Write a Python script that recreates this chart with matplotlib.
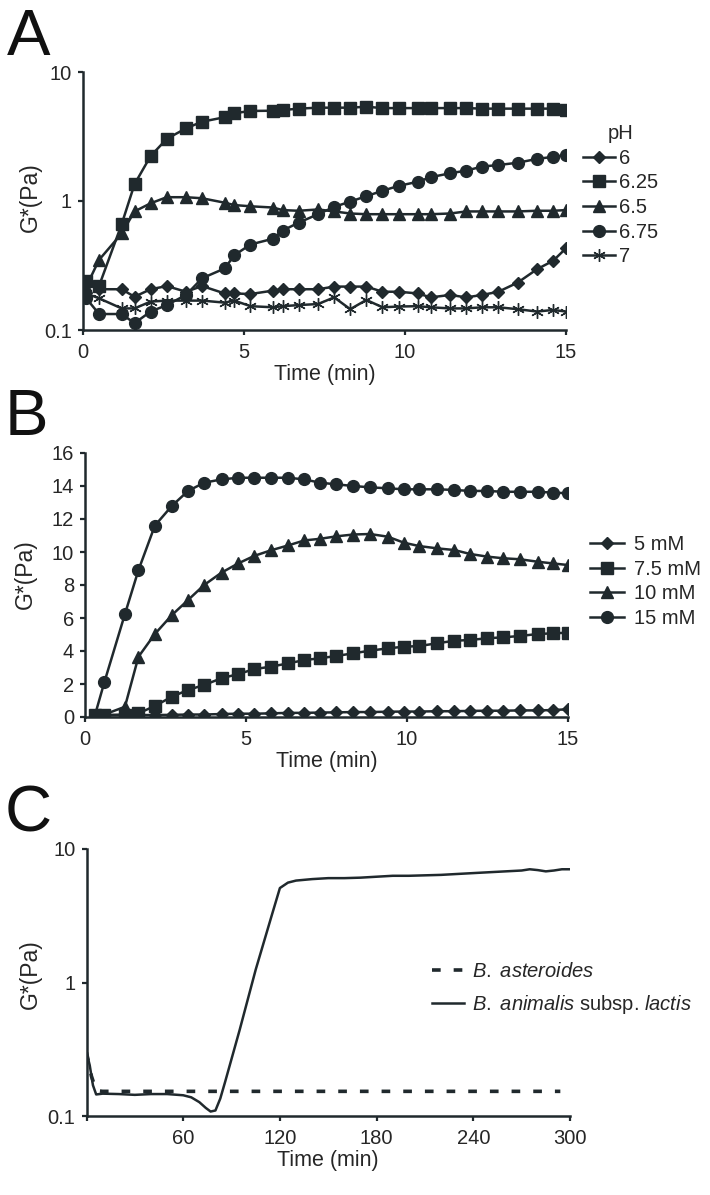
import matplotlib
matplotlib.use("Agg")
import matplotlib.pyplot as plt
from matplotlib.ticker import FixedLocator, FixedFormatter, NullLocator

plt.rcParams['font.family'] = ['Liberation Sans', 'DejaVu Sans']
plt.rcParams['mathtext.fontset'] = 'custom'
plt.rcParams['mathtext.it'] = 'Liberation Sans:italic'
plt.rcParams['mathtext.rm'] = 'Liberation Sans'

# ---------------- Panel A data (pH) ----------------
tA = [0.1, 0.5, 1.2, 1.6, 2.1, 2.6, 3.2, 3.7, 4.4, 4.7, 5.2, 5.9, 6.2, 6.7, 7.3,
      7.8, 8.3, 8.8, 9.3, 9.8, 10.4, 10.8, 11.4, 11.9, 12.4, 12.9, 13.5, 14.1, 14.6, 15.0]
pH_labels = ['6', '6.25', '6.5', '6.75', '7']
pH6 = [0.233, 0.207, 0.207, 0.181, 0.207, 0.219, 0.198, 0.219, 0.192, 0.192, 0.190, 0.202,
       0.207, 0.207, 0.207, 0.217, 0.217, 0.217, 0.198, 0.198, 0.192, 0.179, 0.187, 0.179,
       0.187, 0.198, 0.233, 0.296, 0.344, 0.43]
pH625 = [0.24, 0.22, 0.66, 1.35, 2.23, 3.03, 3.66, 4.12, 4.46, 4.79, 4.99, 5.01, 5.07, 5.2,
         5.29, 5.29, 5.29, 5.38, 5.25, 5.25, 5.25, 5.25, 5.25, 5.25, 5.2, 5.2, 5.2, 5.2, 5.2, 5.1]
pH65 = [0.217, 0.35, 0.56, 0.83, 0.96, 1.07, 1.07, 1.05, 0.97, 0.93, 0.91, 0.89, 0.85, 0.84,
        0.86, 0.83, 0.80, 0.79, 0.79, 0.79, 0.79, 0.79, 0.80, 0.83, 0.83, 0.83, 0.83, 0.84, 0.84, 0.85]
pH675 = [0.176, 0.133, 0.133, 0.113, 0.139, 0.156, 0.187, 0.252, 0.30, 0.38, 0.46, 0.51, 0.59,
         0.68, 0.79, 0.90, 0.99, 1.09, 1.20, 1.31, 1.41, 1.53, 1.64, 1.72, 1.85, 1.90, 1.98,
         2.12, 2.20, 2.27]
pH7 = [0.192, 0.176, 0.147, 0.147, 0.166, 0.169, 0.169, 0.169, 0.163, 0.169, 0.153, 0.150,
       0.153, 0.156, 0.159, 0.179, 0.145, 0.171, 0.150, 0.152, 0.153, 0.150, 0.147, 0.147,
       0.150, 0.150, 0.145, 0.139, 0.143, 0.139]

# ---------------- Panel B data (mM) ----------------
tB = [0.3, 0.6, 1.24, 1.66, 2.17, 2.7, 3.2, 3.7, 4.24, 4.76, 5.25, 5.77, 6.31, 6.81, 7.3,
      7.81, 8.33, 8.85, 9.4, 9.91, 10.38, 10.94, 11.47, 11.96, 12.49, 12.99, 13.51, 14.06, 14.52, 15.0]
mM_labels = ['5 mM', '7.5 mM', '10 mM', '15 mM']
mM5 = [0.1, 0.1, 0.1, 0.12, 0.12, 0.13, 0.15, 0.15, 0.18, 0.2, 0.2, 0.22, 0.25, 0.25, 0.27,
       0.28, 0.3, 0.3, 0.32, 0.33, 0.33, 0.35, 0.35, 0.37, 0.38, 0.38, 0.4, 0.4, 0.42, 0.47]
mM75 = [0.1, 0.12, 0.15, 0.22, 0.67, 1.23, 1.64, 1.94, 2.35, 2.6, 2.9, 3.05, 3.25, 3.45, 3.56,
        3.7, 3.86, 4.02, 4.16, 4.26, 4.3, 4.47, 4.62, 4.67, 4.77, 4.83, 4.91, 5.03, 5.07, 5.11]
mM10 = [0.1, 0.15, 0.62, 3.65, 5.03, 6.18, 7.09, 8.0, 8.75, 9.31, 9.76, 10.1, 10.4, 10.7, 10.8,
        10.95, 11.06, 11.09, 10.93, 10.56, 10.36, 10.22, 10.12, 9.88, 9.72, 9.62, 9.56, 9.41, 9.31, 9.21]
mM15 = [0.05, 2.1, 6.24, 8.9, 11.6, 12.8, 13.7, 14.2, 14.4, 14.5, 14.5, 14.5, 14.5, 14.4, 14.2,
        14.1, 14.0, 13.92, 13.86, 13.8, 13.8, 13.8, 13.76, 13.7, 13.7, 13.65, 13.65, 13.65, 13.6, 13.56]

# ---------------- Panel C data ----------------
tC_ast = [0, 3, 6, 10, 50, 100, 150, 200, 250, 294]
gC_ast = [0.30, 0.20, 0.155, 0.153, 0.153, 0.153, 0.153, 0.153, 0.153, 0.153]
tC_lac = [0, 2, 4, 6, 10, 20, 30, 40, 50, 60, 65, 70, 74, 77, 80, 83, 86, 95, 105, 115, 120,
          125, 130, 140, 150, 160, 170, 180, 190, 200, 210, 220, 230, 240, 250, 260, 270, 275,
          280, 285, 290, 295, 300]
gC_lac = [0.30, 0.24, 0.17, 0.145, 0.147, 0.146, 0.144, 0.146, 0.146, 0.143, 0.138, 0.127,
          0.115, 0.108, 0.110, 0.135, 0.18, 0.44, 1.25, 3.2, 5.1, 5.6, 5.8, 5.95, 6.05, 6.05,
          6.1, 6.2, 6.3, 6.3, 6.35, 6.4, 6.5, 6.6, 6.7, 6.8, 6.9, 7.05, 6.95, 6.8, 6.9, 7.05, 7.05]
C_labels = [r'$\it{B.\ asteroides}$', r'$\it{B.\ animalis}$ subsp. $\it{lactis}$']

INK = '#20292d'
TXT = '#262626'
FS = 14.5      # tick / legend text
FSX = 15.5     # x-axis label
FSY = 16.5     # y-axis label

W, H = 710, 1195
fig = plt.figure(figsize=(W / 100, H / 100), dpi=100)


def rect(l, r, t, b):
    return [l / W, 1 - b / H, (r - l) / W, (b - t) / H]


def style(ax):
    for s in ['top', 'right']:
        ax.spines[s].set_visible(False)
    for s in ['left', 'bottom']:
        ax.spines[s].set_linewidth(1.8)
        ax.spines[s].set_color(INK)
    ax.tick_params(direction='out', length=3.5, width=1.6, color=INK,
                   labelsize=FS, labelcolor=TXT, pad=4.5)
    ax.tick_params(axis='x', pad=6)
    ax.patch.set_alpha(0)


lw = 1.8
mk = dict(color=INK, lw=lw, mec=INK, mfc=INK)

# ---------------- Panel A ----------------
axA = fig.add_axes(rect(83, 566, 72, 330))
axA.plot(tA, pH6, marker='D', ms=6, label=pH_labels[0], **mk)
axA.plot(tA, pH625, marker='s', ms=8, label=pH_labels[1], **mk)
axA.plot(tA, pH65, marker='^', ms=8.5, label=pH_labels[2], **mk)
axA.plot(tA, pH675, marker='o', ms=8.5, label=pH_labels[3], **mk)
axA.plot(tA, pH7, marker=(6, 2, 0), ms=9, mew=1.0, label=pH_labels[4], **mk)
axA.set_yscale('log')
axA.set_xlim(0, 15)
axA.set_ylim(0.1, 10)
axA.yaxis.set_major_locator(FixedLocator([0.1, 1, 10]))
axA.yaxis.set_major_formatter(FixedFormatter(['0.1', '1', '10']))
axA.yaxis.set_minor_locator(NullLocator())
axA.set_xticks([0, 5, 10, 15])
style(axA)
axA.set_xlabel('Time (min)', fontsize=FSX, color=TXT, labelpad=1.5)
axA.set_ylabel('G*(Pa)', fontsize=FSY, color=TXT)
axA.yaxis.set_label_coords(-0.085, 0.515)
legA = axA.legend(title='pH', loc='upper left', bbox_to_anchor=(583 / W, 1 - 124 / H),
                  bbox_transform=fig.transFigure, frameon=False, fontsize=FS,
                  title_fontsize=FS, handlelength=1.6, handletextpad=0.2,
                  labelspacing=0.28, borderpad=0, borderaxespad=0)
for t in legA.get_texts():
    t.set_color(TXT)
legA.get_title().set_color(TXT)

# ---------------- Panel B ----------------
axB = fig.add_axes(rect(85, 568, 453, 717))
axB.plot(tB, mM5, marker='D', ms=6, label=mM_labels[0], **mk)
axB.plot(tB, mM75, marker='s', ms=8, label=mM_labels[1], **mk)
axB.plot(tB, mM10, marker='^', ms=8.5, label=mM_labels[2], **mk)
axB.plot(tB, mM15, marker='o', ms=8.5, label=mM_labels[3], **mk)
axB.set_xlim(0, 15)
axB.set_ylim(0, 16)
axB.set_yticks(range(0, 17, 2))
axB.set_xticks([0, 5, 10, 15])
style(axB)
axB.set_xlabel('Time (min)', fontsize=FSX, color=TXT, labelpad=1.5)
axB.set_ylabel('G*(Pa)', fontsize=FSY, color=TXT)
axB.yaxis.set_label_coords(-0.10, 0.54)
legB = axB.legend(loc='upper left', bbox_to_anchor=(590 / W, 1 - 535 / H),
                  bbox_transform=fig.transFigure, frameon=False, fontsize=FS,
                  handlelength=1.7, handletextpad=0.5, labelspacing=0.28,
                  borderpad=0, borderaxespad=0)
for t in legB.get_texts():
    t.set_color(TXT)

# ---------------- Panel C ----------------
axC = fig.add_axes(rect(86.5, 570, 849, 1116))
axC.plot(tC_ast, gC_ast, color=INK, lw=2.6, dashes=(2.4, 3.6), label=C_labels[0])
axC.plot(tC_lac, gC_lac, color=INK, lw=1.8, label=C_labels[1])
axC.set_yscale('log')
axC.set_xlim(0, 300)
axC.set_ylim(0.1, 10)
axC.yaxis.set_major_locator(FixedLocator([0.1, 1, 10]))
axC.yaxis.set_major_formatter(FixedFormatter(['0.1', '1', '10']))
axC.yaxis.set_minor_locator(NullLocator())
axC.set_xticks([0, 60, 120, 180, 240, 300])
axC.set_xticklabels(['', '60', '120', '180', '240', '300'])
style(axC)
axC.set_xlabel('Time (min)', fontsize=FSX, color=TXT, labelpad=1.5)
axC.set_ylabel('G*(Pa)', fontsize=FSY, color=TXT)
axC.yaxis.set_label_coords(-0.092, 0.53)
legC = axC.legend(loc='upper left', bbox_to_anchor=(432 / W, 1 - 962 / H),
                  bbox_transform=fig.transFigure, frameon=False, fontsize=FS,
                  handlelength=1.6, handletextpad=0.4, labelspacing=0.6,
                  borderpad=0, borderaxespad=0)
for t in legC.get_texts():
    t.set_color(TXT)

# ---------------- Panel letters ----------------
for letter, x, yb in [('A', 7, 55), ('B', 5, 435), ('C', 5, 832)]:
    fig.text(x / W, 1 - yb / H, letter, fontsize=47, color='#111111',
             ha='left', va='baseline')

fig.savefig('out.png', dpi=100, facecolor='white')
